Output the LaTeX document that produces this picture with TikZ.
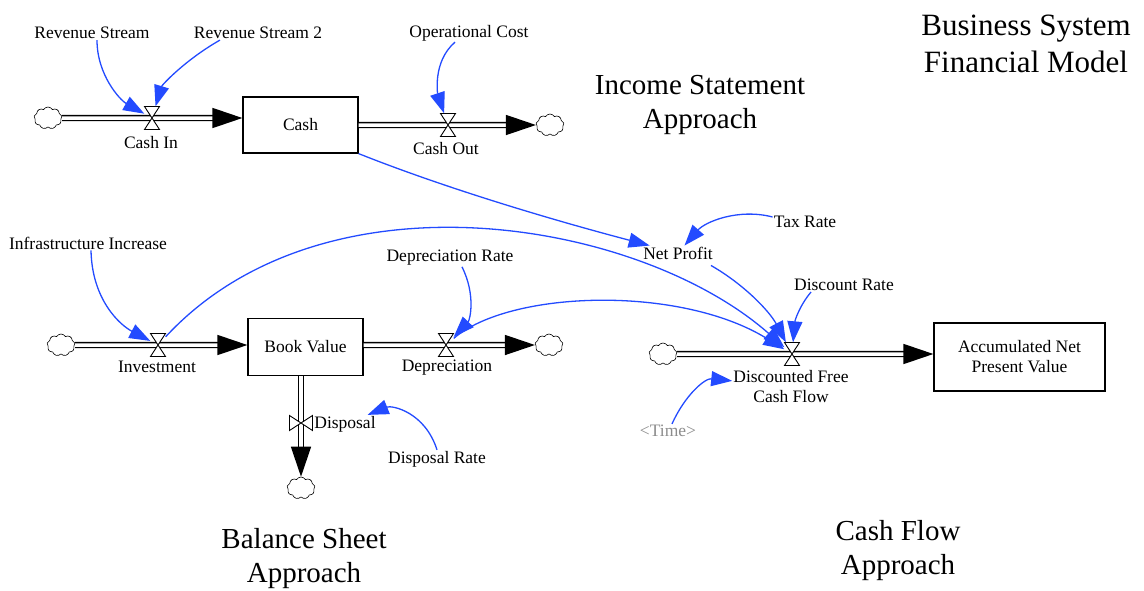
\documentclass[tikz,border=0pt]{standalone}
\usepackage{fontspec}
\setmainfont{Liberation Serif}
\usetikzlibrary{arrows.meta,shapes.symbols}
\definecolor{infoblue}{RGB}{35,75,255}
\definecolor{shadowgray}{RGB}{140,140,140}
\tikzset{
  valve/.pic={
    \draw[line width=0.9pt,fill=white,line join=miter]
      (-7.5,-11.5) -- (7.5,-11.5) -- (0,0) -- cycle
      (-7.5,11.5) -- (7.5,11.5) -- (0,0) -- cycle;
  }
}
\begin{document}
\begin{tikzpicture}[x=1pt,y=-1pt,
  lbl/.style={inner sep=1pt,font=\fontsize{17.5}{20}\selectfont},
  heading/.style={align=center,inner sep=0pt,font=\fontsize{29}{34}\selectfont},
  stockbox/.style={draw,line width=1.2pt,inner sep=2pt,align=center,font=\fontsize{17.5}{20}\selectfont},
  pipe/.style={draw,double=white,double distance=3.5pt,line width=1.4pt},
  flowtip/.style={-{Triangle[length=30pt,width=20pt]}},
  info/.style={draw=infoblue,line width=1.3pt,-{Triangle[length=21pt,width=15pt]}},
  sourcecloud/.style={cloud,cloud puffs=9,cloud puff arc=120,aspect=1.3,draw,line width=0.6pt,minimum width=28pt,minimum height=22pt,inner sep=0pt},
  valvespot/.style={inner sep=0pt,minimum width=15pt,minimum height=23pt}
]
\useasboundingbox (0,0) rectangle (1144,590);

% stocks
\node[stockbox,minimum width=115pt,minimum height=56pt] (cash) at (300.5,125) {Cash};
\node[stockbox,minimum width=115pt,minimum height=57pt] (bv) at (305.5,347) {Book Value};
\node[stockbox,minimum width=171pt,minimum height=68pt] (anpv) at (1019.5,357) {Accumulated Net\\Present Value};

% sources and sinks
\node[sourcecloud] (c1) at (48,118) {};
\node[sourcecloud] (c2) at (550,125) {};
\node[sourcecloud] (c3) at (61,345) {};
\node[sourcecloud] (c4) at (549,345) {};
\node[sourcecloud] (c5) at (301,488) {};
\node[sourcecloud] (c6) at (663,354) {};

% valve positions
\node[valvespot] (cin) at (152,118) {};
\node[valvespot] (cout) at (448,125) {};
\node[valvespot] (inv) at (158,345) {};
\node[valvespot] (dep) at (446,345) {};
\node[valvespot,minimum width=23pt,minimum height=15pt] (dv) at (301,423) {};
\node[valvespot] (dfcf) at (792,354) {};

% flow pipes
\draw[pipe,flowtip] (c1) -- (c1 -| cash.west);
\draw[pipe,flowtip] (cash) -- (c2);
\draw[pipe,flowtip] (c3) -- (c3 -| bv.west);
\draw[pipe,flowtip] (c4 -| bv.east) -- (c4);
\draw[pipe,flowtip] (c5 |- bv.south) -- (c5);
\draw[pipe,flowtip] (c6) -- (c6 -| anpv.west);

% valves
\pic at (cin) {valve};
\pic at (cout) {valve};
\pic at (inv) {valve};
\pic at (dep) {valve};
\pic[rotate=90] at (dv) {valve};
\pic at (dfcf) {valve};

% labels
\node[lbl] (rs1) at (92,33) {Revenue Stream};
\node[lbl] (rs2) at (258,33) {Revenue Stream 2};
\node[lbl] (opc) at (469,33) {Operational Cost};
\node[lbl] (cinL) at (151,143) {Cash In};
\node[lbl] (coutL) at (446,149) {Cash Out};
\node[lbl] (infra) at (88,243) {Infrastructure Increase};
\node[lbl] (depr) at (450,258) {Depreciation Rate};
\node[lbl] (invL) at (157,367) {Investment};
\node[lbl] (depL) at (447,368) {Depreciation};
\node[lbl] (dispL) at (345,424) {Disposal};
\node[lbl] (disr) at (437,459) {Disposal Rate};
\node[lbl] (np) at (678,253) {Net Profit};
\node[lbl] (tax) at (805,222) {Tax Rate};
\node[lbl] (dr) at (844,285) {Discount Rate};
\node[lbl,align=center] (dfcfL) at (791,387) {Discounted Free\\Cash Flow};
\node[lbl,text=shadowgray] (time) at (668,431) {<Time>};

% headings
\node[heading] (isa) at (700,105) {Income Statement\\Approach};
\node[heading,font=\fontsize{31}{37}\selectfont] (title) at (1026,44) {Business System\\Financial Model};
\node[heading] (bsa) at (304,559) {Balance Sheet\\Approach};
\node[heading] (cfa) at (898,551) {Cash Flow\\Approach};

% information links
\draw[info] ([xshift=5pt]rs1.south) .. controls (97,75) and (120,100) .. (cin);
\draw[info] ([xshift=-38pt]rs2.south) .. controls (185,60) and (162,85) .. (cin);
\draw[info] ([xshift=-14pt]opc.south) .. controls (432,62) and (438,95) .. (cout);
\draw[info] ([xshift=3pt]infra.south) .. controls (92,300) and (120,325) .. (inv);
\draw[info] ([xshift=12pt]depr.south) .. controls (476,295) and (470,320) .. (dep);
\draw[info] (disr.north) .. controls (425,412) and (392,405) .. (dispL);
\draw[info] ([yshift=5pt]tax.west) .. controls (738,208) and (705,222) .. (np);
\draw[info] (cash.south east) .. controls (450,190) and (560,222) .. (np);
\draw[info] ([xshift=-3pt,yshift=-5pt]np.south east) .. controls (745,285) and (770,312) .. (dfcf);
\draw[info] ([xshift=-33pt]dr.south) .. controls (800,305) and (795,320) .. (dfcf);
\draw[info] (inv) .. controls (325,165) and (640,220) .. (dfcf);
\draw[info] (dep) .. controls (510,290) and (680,285) .. (dfcf);
\draw[info] ([xshift=4pt]time.north) .. controls (685,395) and (705,378) .. (dfcfL);
\end{tikzpicture}
\end{document}
